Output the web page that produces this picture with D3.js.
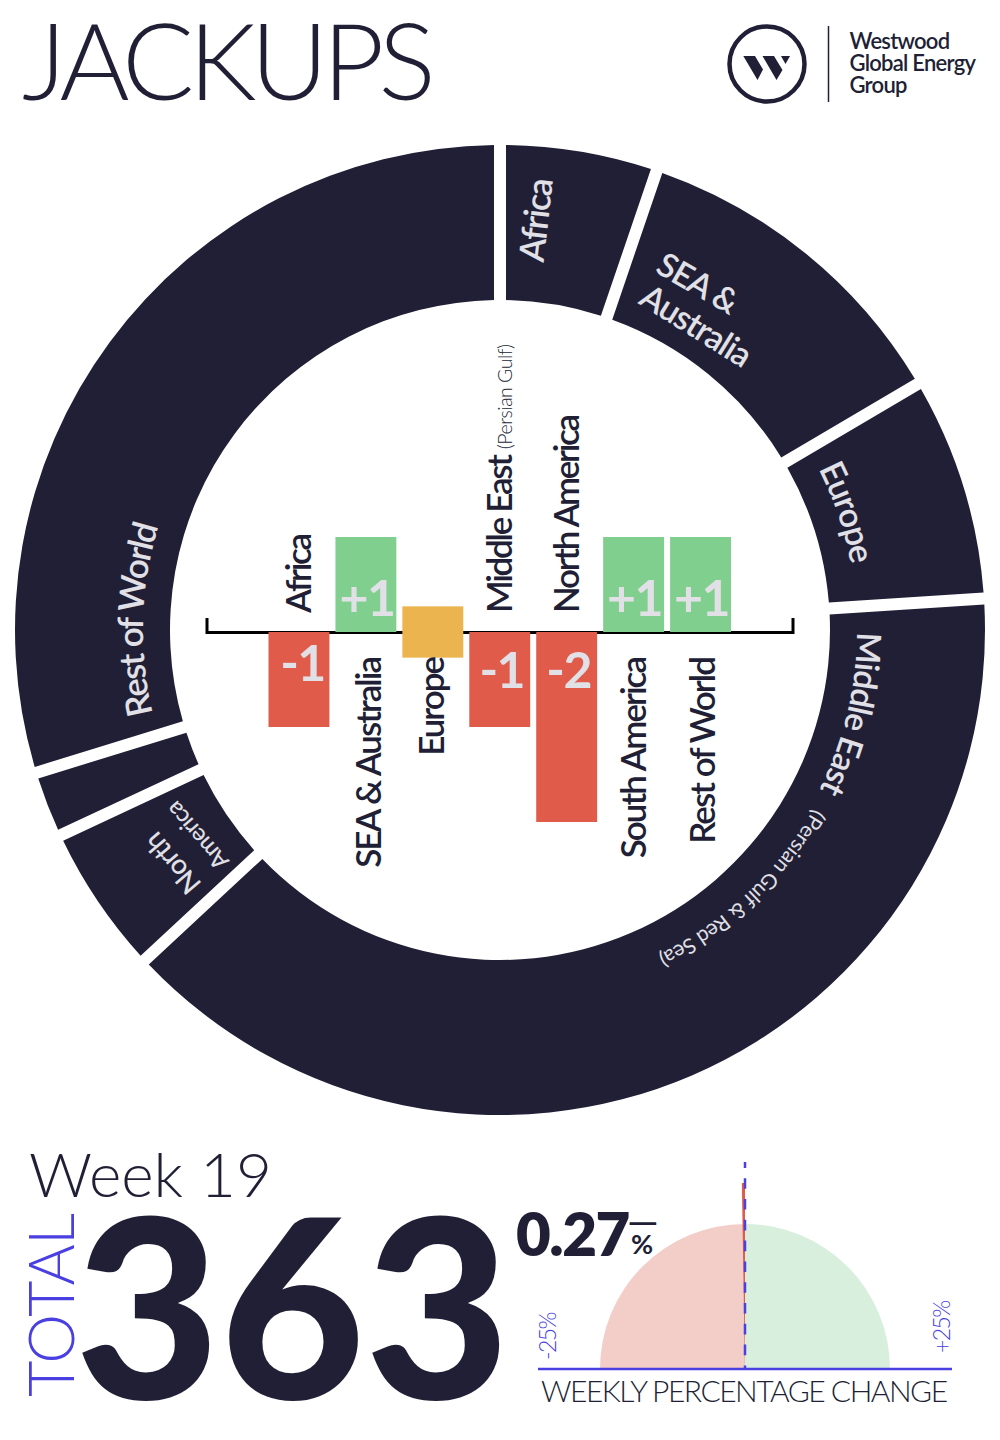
<!DOCTYPE html>
<html><head><meta charset="utf-8">
<script src="https://cdn.jsdelivr.net/npm/d3@7"></script>
<style>html,body{margin:0;padding:0;background:#fff}svg{display:block}text{font-family:Lato,sans-serif}</style>
</head><body><svg id="c" width="1000" height="1440"></svg>
<script>
const regions=["Africa","SEA & Australia","Europe","Middle East","North America","South America","Rest of World"];
const rigCounts=[19,41,27,142,18,8,108];
const weeklyChanges=[-1,1,0,-1,-2,1,1];
const changeLabels=["-1","+1","","-1","-2","+1","+1"];
const total=363, week="Week 19", pct=-0.27;
const navy="#211f35", red="#e05b49", green="#80cf8e", amber="#ecb44e", blue="#4a3fe0", pale="#e0e0e6";
const svg=d3.select("#c");
function T(s,x,y,size,weight,fill,opts={}){
  return svg.append("text").attr("transform",`translate(${x},${y}) rotate(${opts.rot||0})`)
   .attr("font-size",size).attr("font-weight",weight).attr("fill",fill)
   .attr("text-anchor",opts.anchor||"start").style("letter-spacing",(opts.ls||0)+"px").text(s);
}
// header
T("JACKUPS",22,100,107,300,navy,{ls:-5.9});
const logo=svg.append("g");
logo.append("circle").attr("cx",767).attr("cy",64).attr("r",37.5).attr("fill","none").attr("stroke",navy).attr("stroke-width",4.5);
logo.append("path").attr("fill",navy).attr("d","M743.300,56H755L763,69.500L757.500,80ZM762.500,56H774L782.500,70L776.500,80ZM781,56H790L785.500,64Z");
logo.append("line").attr("x1",828.500).attr("x2",828.500).attr("y1",26).attr("y2",102).attr("stroke",navy).attr("stroke-width",1.500);
["Westwood","Global Energy","Group"].forEach((s,i)=>T(s,849.500,49+i*21.8,22,600,navy,{ls:-0.75}));
// ring
const cx=500,cy=630,R0=330,R1=485,labelR=357;
const arcs=d3.pie().sort(null).value(d=>d)(rigCounts);
const arc=d3.arc().innerRadius(R0).outerRadius(R1).padAngle(12/400).padRadius(400);
svg.append("g").attr("transform",`translate(${cx},${cy})`).selectAll("path").data(arcs).join("path").attr("d",arc).attr("fill",navy);
svg.append("defs").append("path").attr("id","labelCircle")
  .attr("d",`M${cx},${cy-labelR}A${labelR},${labelR} 0 1 1 ${cx},${cy+labelR}A${labelR},${labelR} 0 1 1 ${cx},${cy-labelR}`);
function curved(s,deg,size,weight,ls,dy=0){
  svg.append("text").attr("font-size",size).attr("font-weight",weight).attr("fill",pale).style("letter-spacing",ls+"px")
    .attr("dy",dy).append("textPath").attr("href","#labelCircle").attr("startOffset",deg*Math.PI/180*labelR).text(s);
}
T("Africa",543.500,263,35,600,pale,{rot:-83.500,ls:-1.500});
T("SEA &",654,271.500,33.500,600,pale,{rot:30,ls:-1});
T("Australia",637.300,303,34,600,pale,{rot:32,ls:-1});
curved("Europe",63.100,34,600,-1);
curved("Middle East",90.300,33.500,600,-1.100);
curved("(Persian Gulf & Red Sea)",119.600,21,400,-.3,-4);
T("North",202.500,884,28,500,pale,{rot:230,ls:-.6});
T("America",230,861,23.500,500,pale,{rot:229,ls:-.6});
curved("Rest of World",256.300,35,600,-1.800);
// bars
const x=d3.scaleBand().domain(regions).range([268.500,731]).paddingInner(0.09).paddingOuter(0);
const y=d3.scaleLinear().domain([-2,1]).range([822,537]);
const neutral=0.27;
svg.append("path").attr("d",`M207,618V632.500H793V618`).attr("fill","none").attr("stroke","#000").attr("stroke-width",3);
svg.append("g").selectAll("rect").data(regions).join("rect")
 .attr("x",d=>x(d)).attr("width",x.bandwidth())
 .attr("y",(d,i)=>weeklyChanges[i]===0?y(neutral):y(Math.max(0,weeklyChanges[i])))
 .attr("height",(d,i)=>weeklyChanges[i]===0?y(-neutral)-y(neutral):Math.abs(y(weeklyChanges[i])-y(0)))
 .attr("fill",(d,i)=>weeklyChanges[i]>0?green:weeklyChanges[i]<0?red:amber);
const nudge={"SEA & Australia":3,"Europe":-1,"Rest of World":2};
regions.forEach((d,i)=>{
  const v=weeklyChanges[i], m=x(d)+x.bandwidth()/2;
  if(changeLabels[i]){
    const ly=v>0?616:(i===0?681:688), lx=i===0?m+3.500:(v<0?m+2:m+1);
    T(changeLabels[i],lx,ly,50,700,pale,{anchor:"middle",ls:-1.500});
  }
  const size=35, lx=m+12+(nudge[d]||0);
  if(d==="Middle East"){
    const t=T(d,lx,613,size,600,navy,{rot:-90,ls:-2.300});
    t.append("tspan").attr("font-size",19.500).attr("font-weight",300).attr("dx",7).style("letter-spacing","-.5px").text("(Persian Gulf)");
  } else if(v<0) T(d,lx,613,size,600,navy,{rot:-90,ls:-2.300});
  else T(d,lx,658,size,600,navy,{rot:-90,anchor:"end",ls:-2});
});
// footer
T(week,29,1197,62,300,navy,{ls:0});
T("TOTAL",74,1397,63,300,blue,{rot:-90,ls:-.6});
T(String(total),75,1399,250,900,navy,{ls:0});
T(Math.abs(pct).toFixed(2),516,1255.500,60,800,navy,{ls:-1.500});
T("—",627,1235.500,40,400,navy);
T("%",631,1254,27,700,navy);
// gauge
const gx=745,gy=1369,gr=145;
const ang=d3.scaleLinear().domain([-25,25]).range([-Math.PI/2,Math.PI/2]);
const g=svg.append("g").attr("transform",`translate(${gx},${gy})`);
const ga=d3.arc().innerRadius(0).outerRadius(gr);
g.append("path").attr("d",ga({startAngle:ang(-25),endAngle:ang(0)})).attr("fill","#f3cdc8");
g.append("path").attr("d",ga({startAngle:ang(0),endAngle:ang(25)})).attr("fill","#d9efdd");
g.append("path").attr("d",d3.arc().innerRadius(0).outerRadius(186)({startAngle:ang(pct),endAngle:ang(0)})).attr("fill",red);
svg.append("line").attr("x1",gx).attr("x2",gx).attr("y1",1162).attr("y2",gy).attr("stroke",blue).attr("stroke-width",2.500).attr("stroke-dasharray","10.600 10.200").attr("stroke-dashoffset",4.600);
svg.append("line").attr("x1",538).attr("x2",952).attr("y1",gy).attr("y2",gy).attr("stroke",blue).attr("stroke-width",2.500);
T("-25%",556,1360,23,300,blue,{rot:-90,ls:-1.600});
T("+25%",950,1353,23,300,blue,{rot:-90,ls:-1.600});
T("WEEKLY PERCENTAGE CHANGE",541,1402,30,300,navy,{ls:-1.500});
</script></body></html>
